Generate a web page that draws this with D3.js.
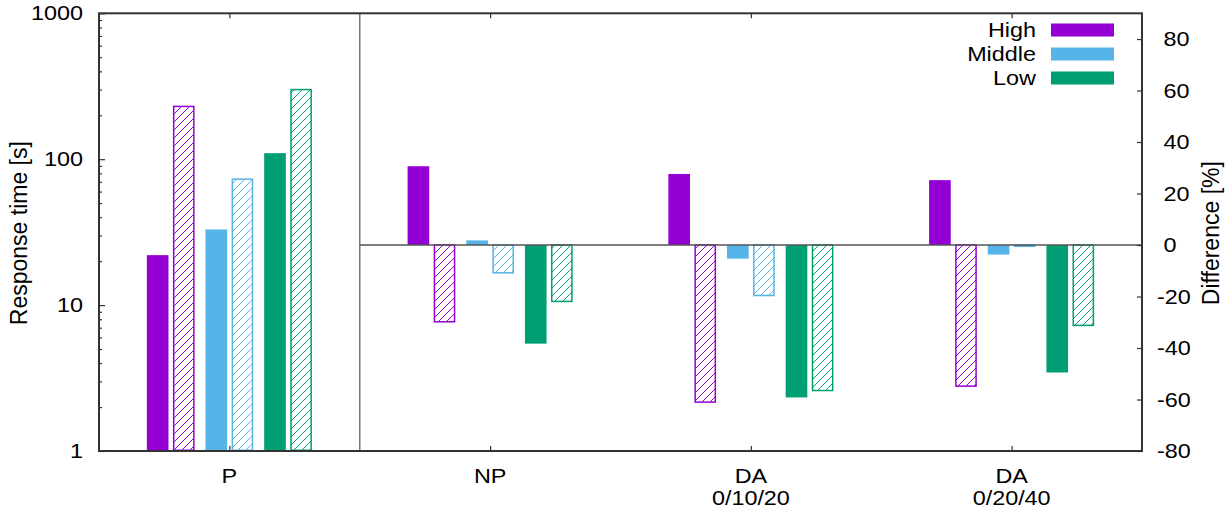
<!DOCTYPE html>
<html>
<head>
<meta charset="utf-8">
<script src="https://cdn.jsdelivr.net/npm/d3@7"></script>
<style>
  body { margin: 0; background: #fff; }
  svg text { font-family: "Liberation Sans", Arial, sans-serif; font-size: 19.5px; fill: #000; white-space: pre; }
</style>
</head>
<body>
<svg id="chart" width="1231" height="513"></svg>
<script>
// categories along x
var categories = [["P"], ["NP"], ["DA", "0/10/20"], ["DA", "0/20/40"]];
var levels = ["High", "Middle", "Low"];
var colors = ["#9400d3", "#56b4e9", "#009e73"];

// panel P: response time [s] (log axis), solid / hatched per level
var pSolid = [22, 33, 110];
var pHatched = [230, 73, 300];

// other panels: difference [%] (right axis), one value per category NP, DA 0/10/20, DA 0/20/40
var diffSolid = {
  High:   [30.6, 27.6, 25.2],
  Middle: [1.8, -5.3, -3.7],
  Low:    [-38.3, -59.2, -49.5]
};
var diffHatched = {
  High:   [-30.1, -61.3, -55.1],
  Middle: [-11.1, -19.9, -0.8],
  Low:    [-22.2, -56.8, -31.5]
};

var logTicks = [1, 10, 100, 1000];
var diffTicks = [-80, -60, -40, -20, 0, 20, 40, 60, 80];

var plotL = 99, plotR = 1142, plotT = 13.3, plotB = 451;
var sx = 1.2; // horizontal glyphs in the reference are a bit wide

var svg = d3.select('#chart');

var x = d3.scaleLinear().domain([-0.5, 3.5]).range([plotL, plotR]);
var yLog = d3.scaleLog().domain([1, 1000]).range([plotB, plotT]);
var yDiff = d3.scaleLinear().domain([-80, 90]).range([plotB, plotT]);

var groupOff = [-0.225, 0, 0.225];
var pairOff = 0.05;
var barW = x(0.083) - x(0);

var defs = svg.append('defs');
colors.forEach(function(c, i) {
  defs.append('pattern')
    .attr('id', 'hatch' + i)
    .attr('patternUnits', 'userSpaceOnUse')
    .attr('width', 8).attr('height', 8)
    .append('path')
    .attr('d', 'M-2,2 L2,-2 M0,8 L8,0 M6,10 L10,6')
    .attr('stroke', c)
    .attr('stroke-width', 1);
});

// bars for panel P (log scale)
var bars = svg.append('g');
levels.forEach(function(lv, i) {
  var cs = x(groupOff[i] - pairOff);
  bars.append('rect')
    .attr('x', cs - barW / 2).attr('width', barW)
    .attr('y', yLog(pSolid[i])).attr('height', yLog(1) - yLog(pSolid[i]))
    .attr('fill', colors[i]);
  var ch = x(groupOff[i] + pairOff);
  bars.append('rect')
    .attr('x', ch - barW / 2 + 0.75).attr('width', barW - 1.5)
    .attr('y', yLog(pHatched[i])).attr('height', yLog(1) - yLog(pHatched[i]) - 0.75)
    .attr('fill', 'url(#hatch' + i + ')')
    .attr('stroke', colors[i]).attr('stroke-width', 1.5);
});

// bars for the difference panels
levels.forEach(function(lv, i) {
  diffSolid[lv].forEach(function(v, k) {
    var c = x(k + 1 + groupOff[i] - pairOff);
    bars.append('rect')
      .attr('x', c - barW / 2).attr('width', barW)
      .attr('y', yDiff(Math.max(v, 0)))
      .attr('height', Math.abs(yDiff(v) - yDiff(0)))
      .attr('fill', colors[i]);
  });
  diffHatched[lv].forEach(function(v, k) {
    var c = x(k + 1 + groupOff[i] + pairOff);
    var h = Math.abs(yDiff(v) - yDiff(0));
    bars.append('rect')
      .attr('x', c - barW / 2 + 0.75).attr('width', barW - 1.5)
      .attr('y', yDiff(Math.max(v, 0)))
      .attr('height', Math.max(h - 0.75, 0.5))
      .attr('fill', 'url(#hatch' + i + ')')
      .attr('stroke', colors[i]).attr('stroke-width', 1.5);
  });
});

// divider and zero line
svg.append('line')
  .attr('x1', x(0.5)).attr('x2', x(0.5))
  .attr('y1', plotT).attr('y2', plotB)
  .attr('stroke', '#777').attr('stroke-width', 1.5);
svg.append('line')
  .attr('x1', x(0.5)).attr('x2', plotR)
  .attr('y1', yDiff(0)).attr('y2', yDiff(0))
  .attr('stroke', '#555').attr('stroke-width', 1.5);

function stretchText(g, dx) {
  g.selectAll('text').each(function() {
    d3.select(this).attr('x', 0)
      .attr('transform', 'translate(' + dx + ',0) scale(' + sx + ',1)');
  });
}

// left log axis
var gl = svg.append('g').attr('transform', 'translate(' + plotL + ',0)')
  .call(d3.axisLeft(yLog).tickValues(logTicks).tickFormat(d3.format('d'))
    .tickSizeInner(-6).tickSizeOuter(0).tickPadding(16));
gl.selectAll('text').attr('dy', '0.34em');
stretchText(gl, -16);

var minor = [];
[1, 10, 100].forEach(function(b) { for (var m = 2; m <= 9; m++) minor.push(b * m); });
svg.append('g').attr('transform', 'translate(' + plotL + ',0)')
  .call(d3.axisLeft(yLog).tickValues(minor).tickFormat('')
    .tickSizeInner(-3).tickSizeOuter(0));

// right difference axis
var gr = svg.append('g').attr('transform', 'translate(' + plotR + ',0)')
  .call(d3.axisRight(yDiff).tickValues(diffTicks)
    .tickFormat(function(d) { return (d < 0 ? '' : ' ') + d; })
    .tickSizeInner(-5).tickSizeOuter(0).tickPadding(15));
gr.selectAll('text').attr('dy', '0.34em');
stretchText(gr, 15);

// bottom and top category ticks
svg.append('g').attr('transform', 'translate(0,' + plotB + ')')
  .call(d3.axisBottom(x).tickValues([0, 1, 2, 3]).tickFormat('')
    .tickSizeInner(-5).tickSizeOuter(0));
svg.append('g').attr('transform', 'translate(0,' + plotT + ')')
  .call(d3.axisTop(x).tickValues([0, 1, 2, 3]).tickFormat('')
    .tickSizeInner(-5).tickSizeOuter(0));

svg.selectAll('.domain').remove();
svg.selectAll('.tick line').attr('stroke', '#333').attr('stroke-width', 1.2);

// category labels
categories.forEach(function(lines, k) {
  lines.forEach(function(s, j) {
    svg.append('text')
      .attr('text-anchor', 'middle')
      .attr('transform', 'translate(' + x(k) + ',' + (483 + j * 22) + ') scale(' + sx + ',1)')
      .text(s);
  });
});

// border
svg.append('rect')
  .attr('x', plotL).attr('y', plotT)
  .attr('width', plotR - plotL).attr('height', plotB - plotT)
  .attr('fill', 'none').attr('stroke', '#333').attr('stroke-width', 2);

// axis titles
var midY = (plotT + plotB) / 2 + 1;
svg.append('text')
  .attr('text-anchor', 'middle')
  .style('font-size', '23px')
  .attr('transform', 'translate(27,' + midY + ') rotate(-90)')
  .text('Response time [s]');
svg.append('text')
  .attr('text-anchor', 'middle')
  .style('font-size', '23px')
  .attr('transform', 'translate(1219,' + midY + ') rotate(-90)')
  .text('Difference [%]');

// legend
var legend = svg.append('g');
levels.forEach(function(lv, i) {
  var cy = 30 + i * 24;
  legend.append('rect')
    .attr('x', 1051).attr('y', cy - 6.5)
    .attr('width', 63).attr('height', 13)
    .attr('fill', colors[i]);
  legend.append('text')
    .attr('text-anchor', 'end')
    .attr('transform', 'translate(1036,' + (cy + 7) + ') scale(' + sx + ',1)')
    .text(lv);
});
</script>
</body>
</html>
